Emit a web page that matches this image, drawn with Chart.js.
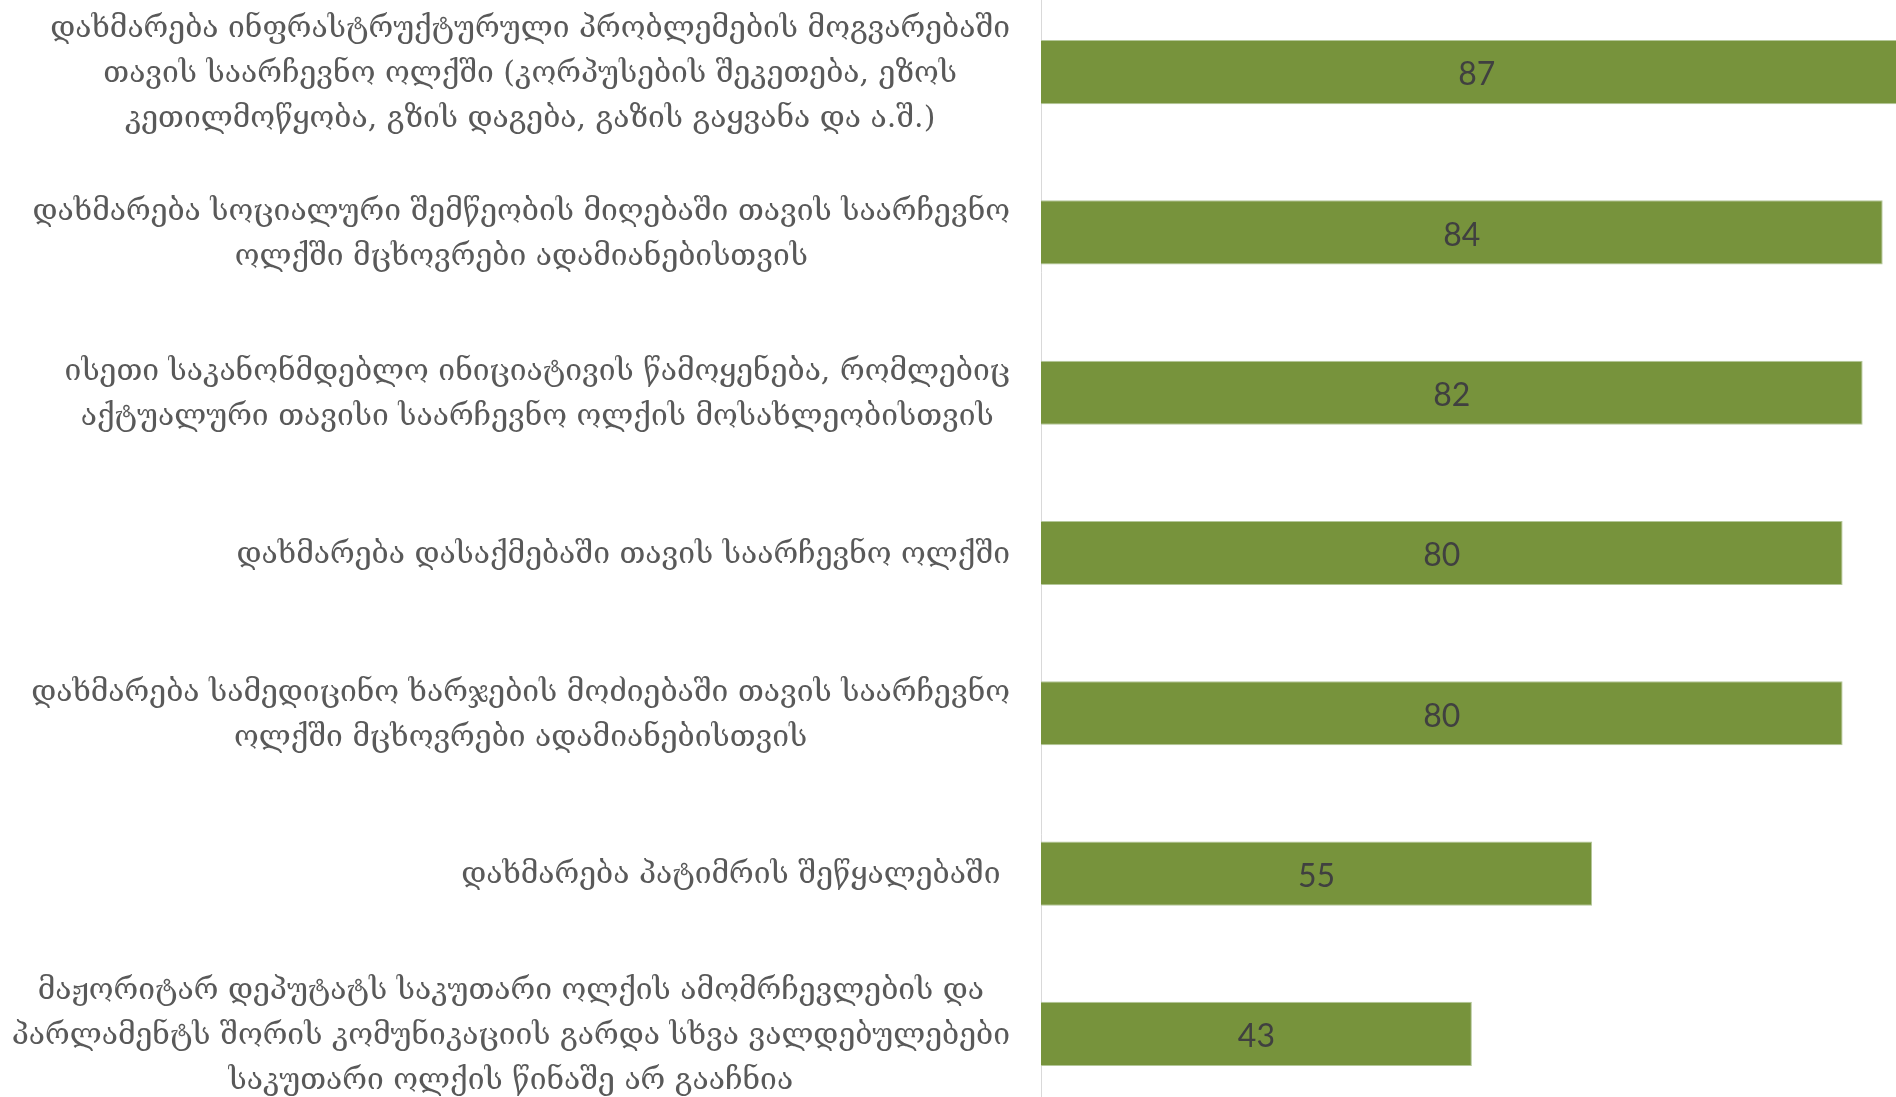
<!DOCTYPE html>
<html>
<head>
<meta charset="utf-8">
<script src="https://cdn.jsdelivr.net/npm/chart.js@4.4.1/dist/chart.umd.min.js"></script>
<style>
    html, body { margin: 0; padding: 0; background: #ffffff; overflow: hidden; width: 1896px; height: 1097px; }
    /* the original picture is a crop: the plot runs past the right and bottom edges */
    #wrap { position: absolute; left: 0; top: -8px; width: 2050px; height: 1122px; }
</style>
</head>
<body>
<div id="wrap"><canvas id="chart"></canvas></div>
<script>
'use strict';

const categories = [
    ['დახმარება ინფრასტრუქტურული პრობლემების მოგვარებაში',
     'თავის საარჩევნო ოლქში (კორპუსების შეკეთება, ეზოს',
     'კეთილმოწყობა, გზის დაგება, გაზის გაყვანა და ა.შ.)'],
    ['დახმარება სოციალური შემწეობის მიღებაში თავის საარჩევნო',
     'ოლქში მცხოვრები ადამიანებისთვის'],
    ['ისეთი საკანონმდებლო ინიციატივის წამოყენება, რომლებიც',
     'აქტუალური თავისი საარჩევნო ოლქის მოსახლეობისთვის'],
    ['დახმარება დასაქმებაში თავის საარჩევნო ოლქში'],
    ['დახმარება სამედიცინო ხარჯების მოძიებაში თავის საარჩევნო',
     'ოლქში მცხოვრები ადამიანებისთვის'],
    ['დახმარება პატიმრის შეწყალებაში '],
    ['მაჟორიტარ დეპუტატს საკუთარი ოლქის ამომრჩევლების და',
     'პარლამენტს შორის კომუნიკაციის გარდა სხვა ვალდებულებები',
     'საკუთარი ოლქის წინაშე არ გააჩნია']
];
const values = [87, 84, 82, 80, 80, 55, 43];
const xMax = 100;

const barColor = '#77933c';
const catFont = '30px "DejaVu Serif", "DejaVu Sans", sans-serif';
const catColor = '#595959';
const catLineHeight = 45;
const catGap = 31;
const valueFont = '32px Lato, "Open Sans", sans-serif';
const valueColor = '#404040';

// Excel style labels: block sits against the axis, lines centred inside the block
const labelPlugin = {
    id: 'excelLabels',
    afterDatasetsDraw: function (chart) {
        const ctx = chart.ctx;
        const xs = chart.scales.x;
        const ys = chart.scales.y;
        ctx.save();
        ctx.textAlign = 'center';
        ctx.textBaseline = 'middle';

        ctx.font = valueFont;
        ctx.fillStyle = valueColor;
        values.forEach((v, i) => {
            const cx = (xs.getPixelForValue(0) + xs.getPixelForValue(v)) / 2;
            ctx.fillText(String(v), cx, ys.getPixelForValue(i) + 3);
        });

        ctx.font = catFont;
        ctx.fillStyle = catColor;
        categories.forEach((lines, i) => {
            const widest = Math.max(...lines.map(l => ctx.measureText(l).width));
            const cx = ys.right - catGap - widest / 2;
            const top = ys.getPixelForValue(i) + 2 - (lines.length - 1) * catLineHeight / 2;
            lines.forEach((l, k) => ctx.fillText(l, cx, top + k * catLineHeight));
        });
        ctx.restore();
    }
};

new Chart(document.getElementById('chart'), {
    type: 'bar',
    data: {
        labels: categories,
        datasets: [{
            data: values,
            backgroundColor: barColor,
            borderColor: '#b4c799',
            borderWidth: 1,
            barPercentage: 0.4,
            categoryPercentage: 1
        }]
    },
    plugins: [labelPlugin],
    options: {
        indexAxis: 'y',
        animation: false,
        responsive: true,
        maintainAspectRatio: false,
        layout: { padding: { left: 0, right: 7, top: 0, bottom: 0 } },
        scales: {
            x: { display: false, min: 0, max: xMax },
            y: {
                grid: { display: false },
                border: { display: true, color: '#d9d9d9', width: 1 },
                ticks: { display: false },
                afterFit: (scale) => { scale.width = 1041; }
            }
        },
        plugins: {
            legend: { display: false },
            tooltip: { enabled: false }
        }
    }
});
</script>
</body>
</html>
